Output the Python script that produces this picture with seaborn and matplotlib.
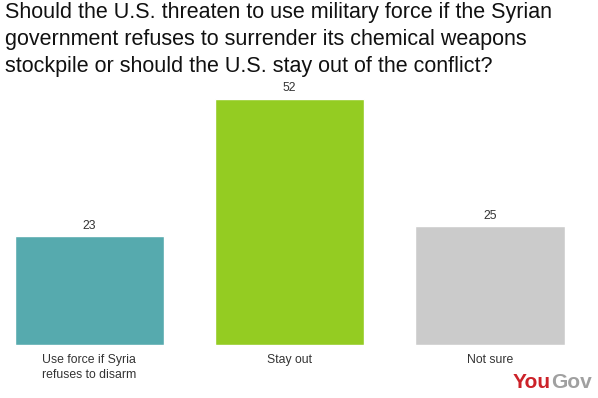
import numpy as np
import pandas as pd
import matplotlib
matplotlib.use("Agg")
import matplotlib.pyplot as plt
import seaborn as sns

# data
categories = ["Use force if Syria\nrefuses to disarm", "Stay out", "Not sure"]
values = [23, 52, 25]
colors = ["#56AAAE", "#94CC22", "#CBCBCB"]
title = ("Should the U.S. threaten to use military force if the Syrian\n"
         "government refuses to surrender its chemical weapons\n"
         "stockpile or should the U.S. stay out of the conflict?")

sns.set_style("white")
plt.rcParams['font.family'] = ['Liberation Sans', 'DejaVu Sans']

df = pd.DataFrame({"Answer": categories, "Percent": values})

fig = plt.figure(figsize=(5.98, 3.98), dpi=100)
ax = fig.add_axes([14.5 / 598, 1 - 344.5 / 398, 550 / 598, 246 / 398])

sns.barplot(data=df, x="Answer", y="Percent", hue="Answer", palette=colors,
            width=0.745, legend=False, saturation=1, ax=ax)

ax.set_xlim(-0.3725, 2.3725)
ax.set_ylim(0, 52)
ax.set_xlabel("")
ax.set_ylabel("")
ax.set_yticks([])
ax.tick_params(axis='x', length=0, labelsize=8.8, colors="#333333", pad=7)
for lbl in ax.get_xticklabels():
    lbl.set_linespacing(1.35)
for s in ax.spines.values():
    s.set_visible(False)

for i, v in enumerate(values):
    ax.annotate(str(v), (i, v), xytext=(0, 3), textcoords="offset points",
                ha="center", va="bottom", fontsize=8.8, color="#333333")

fig.text(5 / 598, 1 - 2 / 398, title, ha="left", va="top", fontsize=15.5,
         color="#111111", linespacing=1.38)

# logo
fig.text(551 / 598, 1 - 383 / 398, "You", ha="right", va="center",
         fontsize=15, fontweight="bold", color="#CC2229")
fig.text(551 / 598, 1 - 383 / 398, "Gov", ha="left", va="center",
         fontsize=15, fontweight="bold", color="#A0A0A0")

fig.savefig("out.png", dpi=100, facecolor="white")
